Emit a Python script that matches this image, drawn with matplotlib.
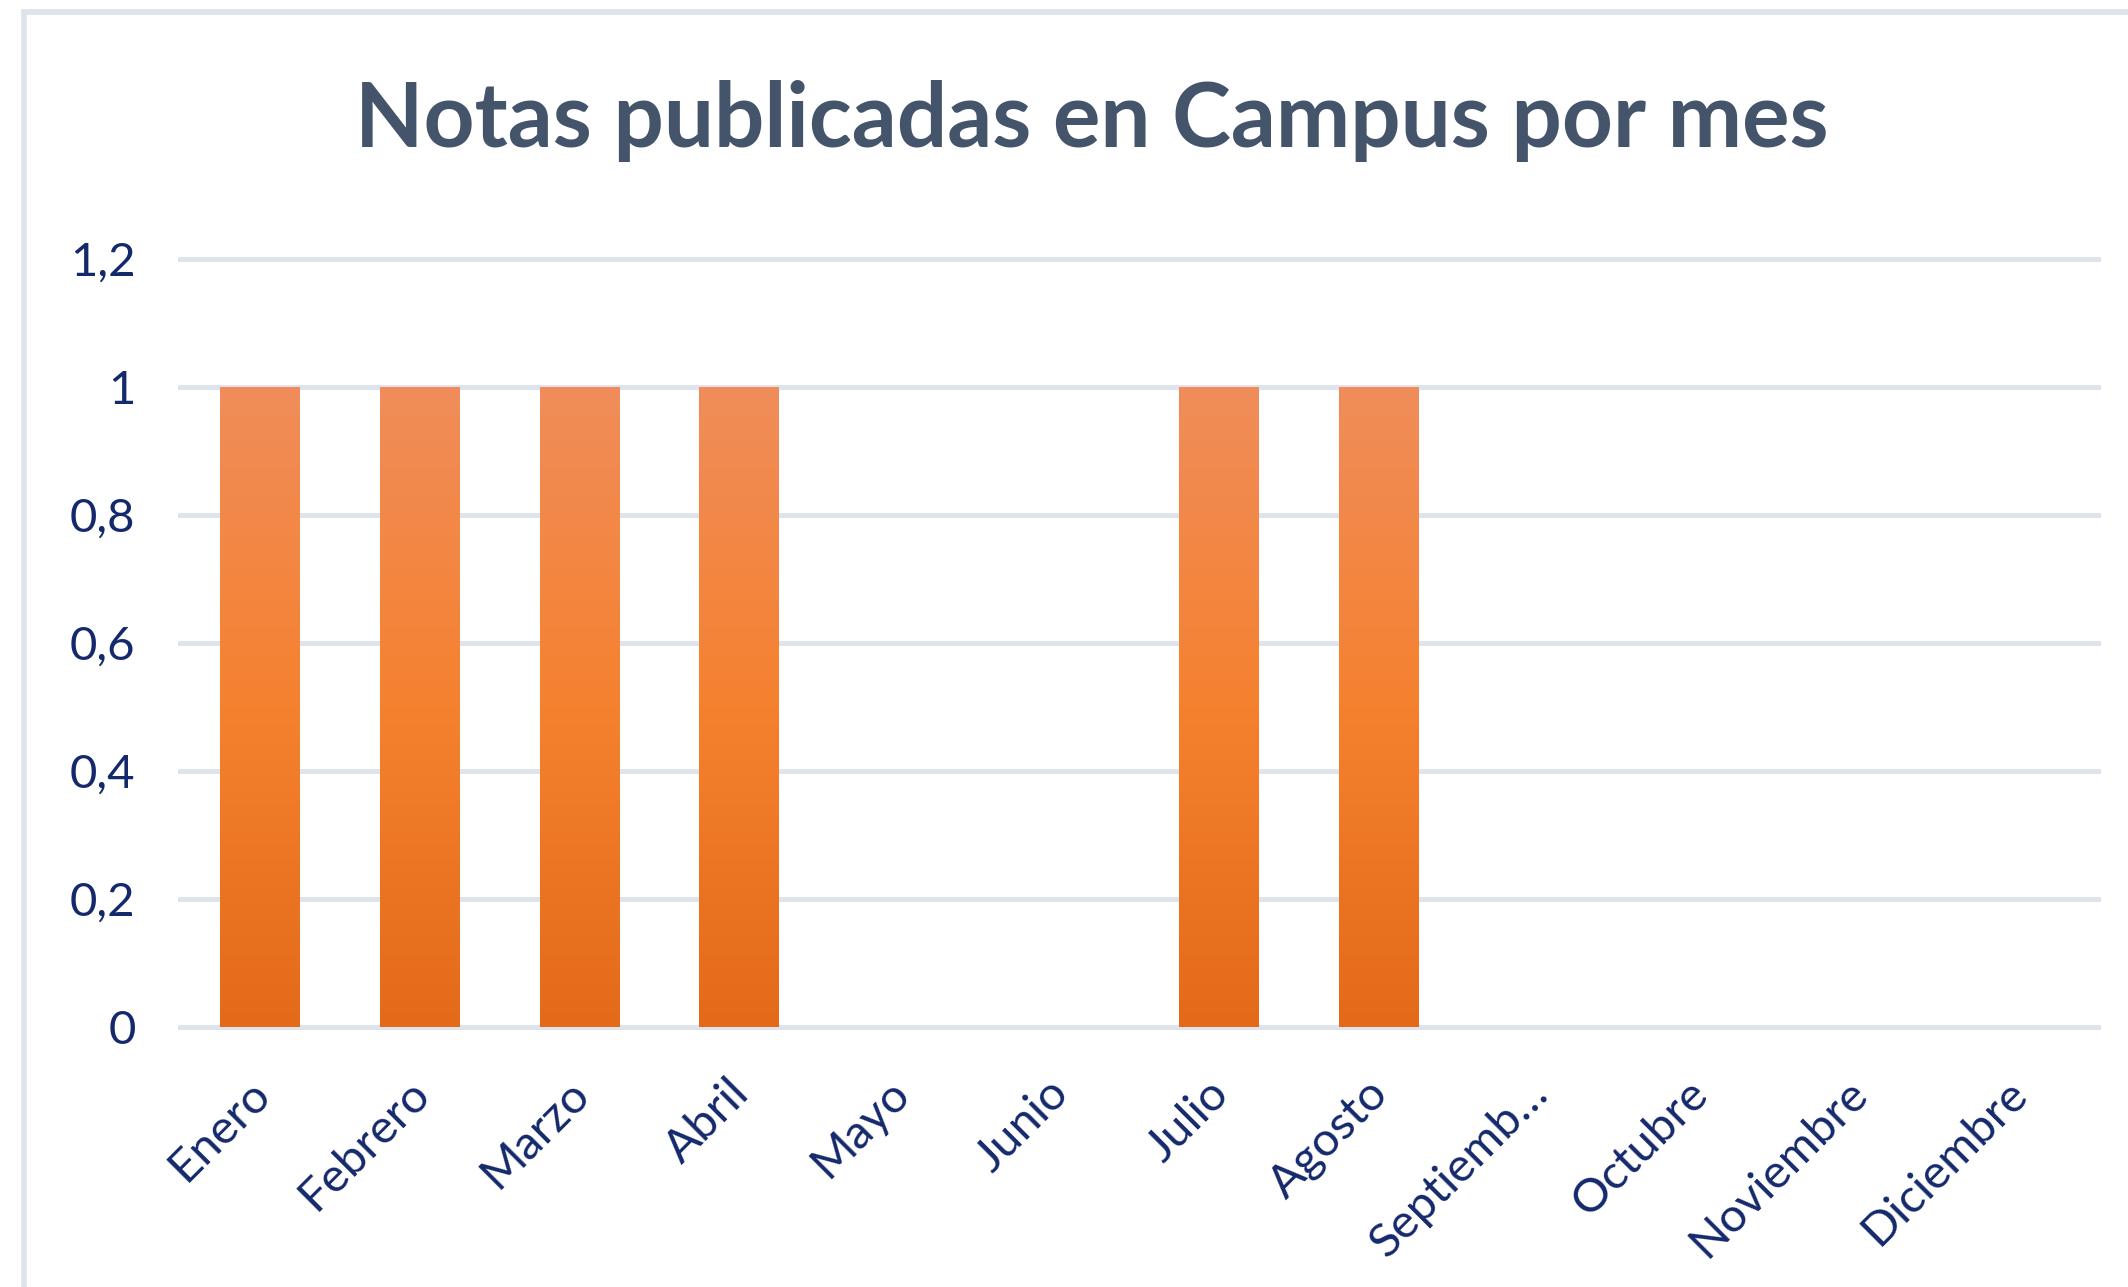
import numpy as np
import matplotlib
matplotlib.use("Agg")
import matplotlib.pyplot as plt
import matplotlib.transforms as mtransforms
from matplotlib.colors import LinearSegmentedColormap
from matplotlib.patches import Rectangle

# Notas publicadas por mes
meses = ["Enero", "Febrero", "Marzo", "Abril", "Mayo", "Junio", "Julio",
         "Agosto", "Septiemb…", "Octubre", "Noviembre", "Diciembre"]
notas = [1, 1, 1, 1, 0, 0, 1, 1, 0, 0, 0, 0]
y_ticks = [0, 0.2, 0.4, 0.6, 0.8, 1.0, 1.2]

navy = "#14296b"
grid_col = "#dfe3eb"

W, H = 2128, 1287
fig = plt.figure(figsize=(W / 100, H / 100), dpi=100)

# chart frame (cut by the right and bottom edges)
frame = Rectangle((24 / W, -0.1), 1.2, (H - 12) / H + 0.1, transform=fig.transFigure,
                  fill=False, edgecolor=grid_col, linewidth=4.2)
fig.patches.append(frame)

ax = fig.add_axes([180 / W, 260 / H, (2098 - 180) / W, 768 / H])
for s in ax.spines.values():
    s.set_visible(False)

x = np.arange(len(meses))
for yv in y_ticks:
    ax.axhline(yv, color=grid_col, linewidth=3.6, zorder=0, clip_on=False)

bars = ax.bar(x, notas, width=0.5, color="none", zorder=2)

# vertical gradient fill for each bar
cmap = LinearSegmentedColormap.from_list(
    "naranja", [(0, "#e36a18"), (0.5, "#f5812f"), (1, "#f08d5a")])
grad = np.linspace(0, 1, 256).reshape(-1, 1)
for b in bars:
    if b.get_height() <= 0:
        continue
    x0, y0 = b.get_x(), b.get_y()
    im = ax.imshow(grad, cmap=cmap, origin="lower", aspect="auto", zorder=2,
                   extent=[x0, x0 + b.get_width(), y0, y0 + b.get_height()])
    im.set_clip_path(b)

ax.set_xlim(-0.5, len(meses) - 0.5)
ax.set_ylim(0, 1.2)

ax.set_yticks(y_ticks)
ax.set_yticklabels([("%g" % v).replace(".", ",") for v in y_ticks],
                   fontsize=34, color=navy, family="Lato")
ax.tick_params(axis="y", length=0, pad=32)

ax.set_xticks(x)
ax.set_xticklabels(meses, rotation=45, ha="right", va="center",
                   rotation_mode="anchor", fontsize=34, color=navy, family="Lato")
ax.tick_params(axis="x", length=0, pad=43)
shift = mtransforms.ScaledTranslation(3 / 100, 0, fig.dpi_scale_trans)
for lab in ax.get_xticklabels():
    lab.set_transform(lab.get_transform() + shift)

fig.text(1092 / W, (H - 147) / H, "Notas publicadas en Campus por mes",
         ha="center", va="baseline", fontsize=64, fontweight="bold",
         color="#44546a", family="Lato")

fig.savefig("out.png", dpi=100, facecolor="white")
